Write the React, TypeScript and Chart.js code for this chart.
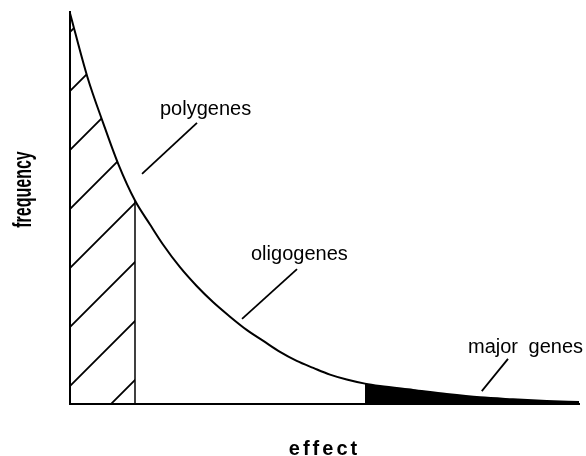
import React, { useEffect, useRef } from 'react';
import { Chart, registerables } from 'chart.js';

Chart.register(...registerables);

// effect (x, 0-100) and frequency (y, 0-100)
const effect = [0, 3.4, 6.54, 9.49, 12.77, 15.72, 18.27, 21.61, 24.89, 28.09, 31.04, 34.71, 37.98, 41.26, 44.54, 47.8, 51.08, 54.36, 57.96, 60.9, 67.39, 74.01, 80.55, 87.03, 93.65, 100];
const frequency = [99.7, 83.5, 71.6, 61.2, 51.9, 45.8, 40.7, 34.9, 30.1, 26.0, 22.7, 18.9, 16.1, 13.3, 11.0, 9.2, 7.5, 6.25, 5.2, 4.6, 3.6, 2.55, 1.7, 1.2, 0.77, 0.5];

// class boundaries on the effect axis
const polygeneLimit = 12.77;
const majorGeneStart = 57.96;

const xTitle = 'effect';
const yTitle = 'frequency';

// annotation texts with their leader lines (data units)
const notes = [
  { text: 'polygenes', at: [17.68, 73.7], from: [24.95, 71.7], to: [14.15, 58.7] },
  { text: 'oligogenes', at: [35.56, 36.7], from: [44.6, 34.4], to: [33.8, 21.7] },
  { text: 'major genes', at: [78.19, 13.0], from: [86.05, 11.5], to: [80.9, 3.3] },
];

const FONT = '"Liberation Sans", Arial, Helvetica, sans-serif';

function makeHatch(ctx: CanvasRenderingContext2D): CanvasPattern | string {
  const s = 59;
  const tile = document.createElement('canvas');
  tile.width = s;
  tile.height = s;
  const t = tile.getContext('2d')!;
  t.strokeStyle = '#000';
  t.lineWidth = 1.8;
  t.beginPath();
  t.moveTo(-5, s + 5);
  t.lineTo(s + 5, -5);
  t.moveTo(-5, 5);
  t.lineTo(5, -5);
  t.moveTo(s - 5, s + 5);
  t.lineTo(s + 5, s - 5);
  t.stroke();
  const p = ctx.createPattern(tile, 'repeat');
  if (!p) return 'rgba(0,0,0,0)';
  p.setTransform(new DOMMatrix().translate(43, 0));
  return p;
}

const annotate = {
  id: 'annotate',
  afterDraw(chart: any) {
    const { ctx, chartArea } = chart;
    const x = chart.scales.x;
    const y = chart.scales.y;
    ctx.save();
    ctx.strokeStyle = '#000';
    ctx.fillStyle = '#000';
    ctx.lineWidth = 1.8;
    ctx.lineCap = 'butt';
    for (const n of notes) {
      ctx.beginPath();
      ctx.moveTo(x.getPixelForValue(n.from[0]), y.getPixelForValue(n.from[1]));
      ctx.lineTo(x.getPixelForValue(n.to[0]), y.getPixelForValue(n.to[1]));
      ctx.stroke();
      ctx.font = `20px ${FONT}`;
      ctx.textAlign = 'left';
      ctx.textBaseline = 'alphabetic';
      (ctx as any).letterSpacing = '0px';
      (ctx as any).wordSpacing = '5px';
      ctx.fillText(n.text, x.getPixelForValue(n.at[0]), y.getPixelForValue(n.at[1]));
    }
    (ctx as any).wordSpacing = '0px';

    // x axis title
    ctx.font = `bold 20px ${FONT}`;
    (ctx as any).letterSpacing = '3px';
    ctx.textAlign = 'center';
    ctx.fillText(xTitle, (chartArea.left + chartArea.right) / 2, chartArea.bottom + 51);

    // y axis title (rotated, condensed)
    (ctx as any).letterSpacing = '0px';
    ctx.translate(chartArea.left - 39.5, chartArea.top + 177.5);
    ctx.rotate(-Math.PI / 2);
    ctx.scale(0.64, 1);
    ctx.font = `bold 25px ${FONT}`;
    ctx.textAlign = 'center';
    ctx.fillText(yTitle, 0, 0);
    ctx.restore();
  },
};

export default function App() {
  const ref = useRef<HTMLCanvasElement>(null);

  useEffect(() => {
    const canvas = ref.current!;
    const ctx = canvas.getContext('2d')!;
    const curve = effect.map((e, i) => ({ x: e, y: frequency[i] }));
    const hatchPts = curve.filter((p) => p.x <= polygeneLimit);
    const majorPts = curve.filter((p) => p.x >= majorGeneStart);
    const limitY = frequency[effect.indexOf(polygeneLimit)];

    const chart = new Chart(ctx, {
      type: 'line',
      data: {
        datasets: [
          {
            data: curve,
            borderColor: '#000',
            borderWidth: 2,
            pointRadius: 0,
            cubicInterpolationMode: 'monotone',
            fill: false,
          },
          {
            data: [
              { x: polygeneLimit, y: 0 },
              { x: polygeneLimit, y: limitY },
            ],
            borderColor: '#000',
            borderWidth: 1.5,
            pointRadius: 0,
            tension: 0,
            fill: false,
          },
          {
            data: hatchPts,
            borderWidth: 0,
            borderColor: 'rgba(0,0,0,0)',
            backgroundColor: makeHatch(ctx) as any,
            pointRadius: 0,
            cubicInterpolationMode: 'monotone',
            fill: 'origin',
          },
          {
            data: majorPts,
            borderWidth: 0,
            borderColor: 'rgba(0,0,0,0)',
            backgroundColor: '#000',
            pointRadius: 0,
            cubicInterpolationMode: 'monotone',
            fill: 'origin',
          },
        ],
      },
      options: {
        responsive: false,
        animation: false,
        devicePixelRatio: 1,
        layout: { padding: { left: 70, top: 12, right: 7, bottom: 52 } },
        plugins: { legend: { display: false }, tooltip: { enabled: false } },
        scales: {
          x: {
            type: 'linear',
            min: 0,
            max: 100,
            ticks: { display: false },
            grid: { display: false, drawTicks: false },
            border: { display: true, color: '#000', width: 2 },
          },
          y: {
            type: 'linear',
            min: 0,
            max: 100,
            ticks: { display: false },
            grid: { display: false, drawTicks: false },
            border: { display: true, color: '#000', width: 2 },
          },
        },
      },
      plugins: [annotate],
    });
    return () => chart.destroy();
  }, []);

  return (
    <div style={{ position: 'fixed', left: 0, top: 0, width: 586, height: 456, background: '#fff' }}>
      <canvas ref={ref} width={586} height={456} />
    </div>
  );
}
